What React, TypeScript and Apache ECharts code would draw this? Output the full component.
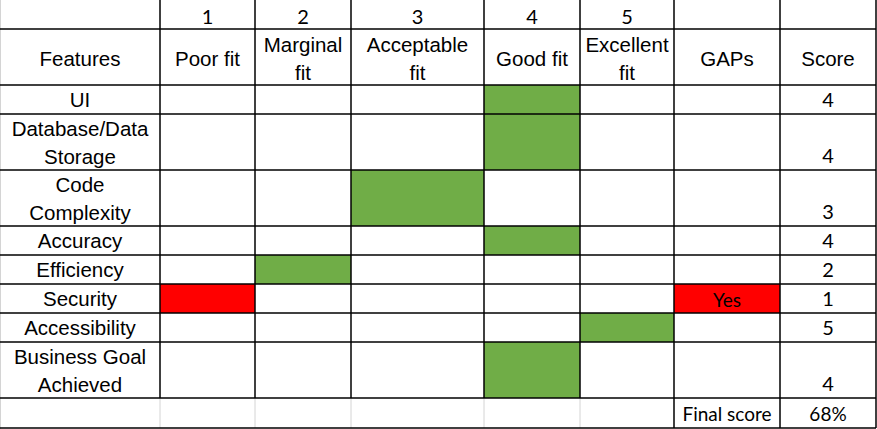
import React, { useEffect, useRef } from 'react';
import * as echarts from 'echarts';

const levelNumbers = ['1', '2', '3', '4', '5'];
const levelNames = ['Poor fit', 'Marginal\nfit', 'Acceptable\nfit', 'Good fit', 'Excellent\nfit'];
const features = ['UI', 'Database/Data\nStorage', 'Code\nComplexity', 'Accuracy', 'Efficiency', 'Security', 'Accessibility', 'Business Goal\nAchieved'];
const scores = [4, 4, 3, 4, 2, 1, 5, 4];
const gaps = ['', '', '', '', '', 'Yes', '', ''];
const finalScore = '68%';

// layout of the sheet grid
const colX = [0, 160, 255, 351, 484, 580, 674, 780, 876];
const rowY = [0, 29, 85, 114, 170, 226, 255, 284, 313, 342, 398, 428];

const ARIAL = '"Liberation Sans", Arial, sans-serif';
const CALIBRI = 'Lato, "Open Sans", sans-serif';
const GREEN = '#70AD47';
const RED = '#FF0000';

function buildGraphic() {
  const els: any[] = [];
  const cx = (c: number) => (colX[c] + colX[c + 1]) / 2;
  const text = (x: number, y: number, t: string, font: string, vAlign = 'middle', size = 20.5) => ({
    type: 'text', x, y, silent: true,
    style: { text: t, fill: '#000', font: `${size}px ${font}`, align: 'center', verticalAlign: vAlign, lineHeight: 28 },
  });

  // fills
  scores.forEach((s, i) => {
    const r = i + 2;
    const fill = s === 1 ? RED : GREEN;
    els.push({ type: 'rect', shape: { x: colX[s], y: rowY[r], width: colX[s + 1] - colX[s], height: rowY[r + 1] - rowY[r] }, style: { fill } });
    if (gaps[i]) {
      els.push({ type: 'rect', shape: { x: colX[6], y: rowY[r], width: colX[7] - colX[6], height: rowY[r + 1] - rowY[r] }, style: { fill: RED } });
    }
  });

  // grid lines
  const last = rowY.length - 1;
  for (let c = 1; c < colX.length; c++) {
    const light = c < 6;
    els.push({ type: 'line', shape: { x1: colX[c], y1: 0, x2: colX[c], y2: rowY[last - 1] }, style: { stroke: '#000', lineWidth: 1.5 } });
    els.push({ type: 'line', shape: { x1: colX[c], y1: rowY[last - 1], x2: colX[c], y2: rowY[last] }, style: { stroke: light ? '#d4d4d4' : '#000', lineWidth: light ? 1 : 1.5 } });
  }
  els.push({ type: 'line', shape: { x1: 0.5, y1: 0, x2: 0.5, y2: 429 }, style: { stroke: '#d4d4d4', lineWidth: 1 } });
  for (let r = 1; r < rowY.length; r++) {
    els.push({ type: 'line', shape: { x1: 0, y1: rowY[r], x2: colX[colX.length - 1], y2: rowY[r] }, style: { stroke: '#000', lineWidth: 1.5 } });
  }

  // header texts
  levelNumbers.forEach((n, i) => els.push(text(cx(i + 1), 16, n, CALIBRI, 'middle', 20)));
  els.push(text(cx(0), 58, 'Features', ARIAL));
  levelNames.forEach((n, i) => els.push(text(cx(i + 1), 58, n, ARIAL)));
  els.push(text(cx(6), 58, 'GAPs', ARIAL));
  els.push(text(cx(7), 58, 'Score', ARIAL));

  // body
  features.forEach((f, i) => {
    const r = i + 2;
    const mid = (rowY[r] + rowY[r + 1]) / 2;
    els.push(text(cx(0), mid, f, ARIAL));
    els.push(text(cx(7), rowY[r + 1] - 1, String(scores[i]), CALIBRI, 'bottom', 20));
    if (gaps[i]) els.push(text(cx(6), mid + 1, gaps[i], CALIBRI, 'middle', 19));
  });
  const fy = (rowY[last - 1] + rowY[last]) / 2;
  els.push(text(cx(6), fy, 'Final score', CALIBRI, 'middle', 19));
  els.push(text(cx(7), fy, finalScore, CALIBRI, 'middle', 19));
  return els;
}

export default function App() {
  const ref = useRef<HTMLDivElement>(null);

  useEffect(() => {
    if (!ref.current) return;
    const chart = echarts.init(ref.current, undefined, { renderer: 'svg' });
    chart.setOption({
      animation: false,
      backgroundColor: '#fff',
      graphic: buildGraphic(),
    });
    return () => chart.dispose();
  }, []);

  return <div ref={ref} style={{ position: 'absolute', left: 0, top: 0, width: 877, height: 429 }} />;
}
